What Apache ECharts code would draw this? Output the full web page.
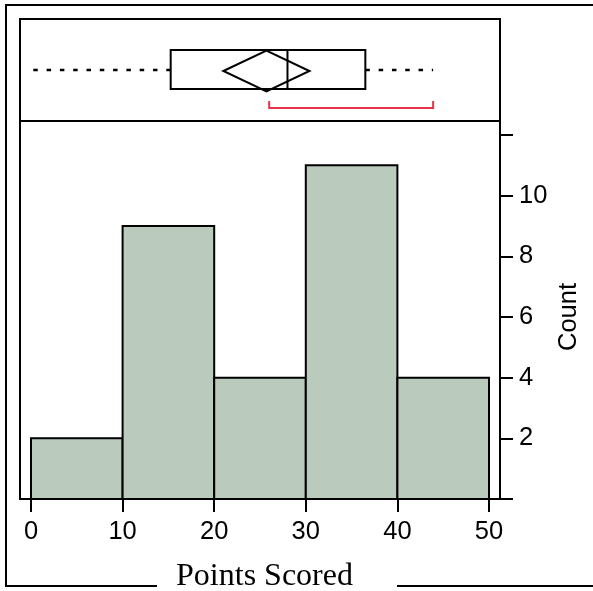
<!DOCTYPE html>
<html><head><meta charset="utf-8">
<script src="https://cdn.jsdelivr.net/npm/echarts@6/dist/echarts.min.js"></script>
<style>html,body{margin:0;padding:0;background:#fff}#c{width:593px;height:591px}</style>
</head><body><div id="c"></div><script>
// ---- data ----
const binStarts = [0, 10, 20, 30, 40];
const binEnds = [10, 20, 30, 40, 50];
const counts = [2, 9, 4, 11, 4];
const xTicks = [0, 10, 20, 30, 40, 50];
const yTicks = [0, 2, 4, 6, 8, 10, 12];
const yLabels = [2, 4, 6, 8, 10];
const boxStats = [0.25, 15.25, 28.0, 36.5, 43.9]; // min, q1, median, q3, max
const meanDiamond = [21.0, 25.7, 30.4];          // ci low, mean, ci high
const shortestHalf = [26.0, 43.9];
const xTitle = 'Points Scored';
const yTitle = 'Count';

const FONT = 'Liberation Sans, Arial, sans-serif';
const chart = echarts.init(document.getElementById('c'), null, {renderer: 'canvas'});
const axisBlack = {color: '#000', width: 2};

chart.setOption({
  animation: false,
  backgroundColor: '#fff',
  grid: [
    {left: 20, top: 19, width: 480, height: 102, show: true, borderColor: '#000', borderWidth: 2, backgroundColor: 'transparent'},
    {left: 20, top: 121, width: 480, height: 378, show: true, borderColor: '#000', borderWidth: 2, backgroundColor: 'transparent'}
  ],
  xAxis: [
    {gridIndex: 0, type: 'value', min: -1.2, max: 51.2, show: false},
    {gridIndex: 1, type: 'value', min: -1.2, max: 51.2,
      axisLine: {show: true, lineStyle: axisBlack},
      axisTick: {show: true, length: 13, customValues: xTicks, lineStyle: axisBlack},
      axisLabel: {customValues: xTicks, margin: 20, color: '#000', fontSize: 25.5, fontFamily: FONT},
      splitLine: {show: false}}
  ],
  yAxis: [
    {gridIndex: 0, type: 'value', min: 0, max: 1, show: false},
    {gridIndex: 1, type: 'value', position: 'right', min: 0, max: 12.46,
      axisLine: {show: true, onZero: false, lineStyle: axisBlack},
      axisTick: {show: true, length: 13, customValues: yTicks, lineStyle: axisBlack},
      axisLabel: {customValues: yLabels, margin: 19, color: '#000', fontSize: 25.5, fontFamily: FONT},
      splitLine: {show: false}}
  ],
  series: [
    {
      type: 'custom', xAxisIndex: 1, yAxisIndex: 1,
      data: binStarts.map((s, i) => [s, binEnds[i], counts[i]]),
      encode: {x: [0, 1], y: 2},
      renderItem: function (params, api) {
        const p0 = api.coord([api.value(0), 0]);
        const p1 = api.coord([api.value(1), api.value(2)]);
        return {type: 'rect', shape: {x: p0[0], y: p1[1], width: p1[0] - p0[0], height: p0[1] - p1[1]},
          style: {fill: '#bacabc', stroke: '#000', lineWidth: 2}};
      }
    },
    {
      type: 'custom', xAxisIndex: 0, yAxisIndex: 0,
      data: [[boxStats[0], boxStats[4]]],
      encode: {x: [0, 1]},
      renderItem: function (params, api) {
        const cs = params.coordSys;
        const X = v => api.coord([v, 0.5])[0];
        const y0 = cs.y;
        const yc = y0 + 51, bt = y0 + 31, bb = y0 + 70;
        const dc = y0 + 52, dh = 20.5;
        const br = y0 + 89, bk = y0 + 82;
        const dash = {stroke: '#000', lineWidth: 2.5, lineDash: [4.5, 8.8], fill: null};
        const solid = {stroke: '#000', lineWidth: 2, fill: null};
        return {type: 'group', children: [
          {type: 'line', shape: {x1: X(boxStats[0]), y1: yc, x2: X(boxStats[1]), y2: yc}, style: dash},
          {type: 'line', shape: {x1: X(boxStats[3]), y1: yc, x2: X(boxStats[4]), y2: yc}, style: dash},
          {type: 'rect', shape: {x: X(boxStats[1]), y: bt, width: X(boxStats[3]) - X(boxStats[1]), height: bb - bt}, style: solid},
          {type: 'line', shape: {x1: X(boxStats[2]), y1: bt, x2: X(boxStats[2]), y2: bb}, style: solid},
          {type: 'polygon', shape: {points: [[X(meanDiamond[0]), dc], [X(meanDiamond[1]), dc - dh], [X(meanDiamond[2]), dc], [X(meanDiamond[1]), dc + dh]]}, style: solid},
          {type: 'polyline', shape: {points: [[X(shortestHalf[0]), bk], [X(shortestHalf[0]), br], [X(shortestHalf[1]), br], [X(shortestHalf[1]), bk]]}, style: {stroke: '#e8334a', lineWidth: 2, fill: null}}
        ]};
      }
    }
  ]
});

const yMid = chart.convertToPixel({yAxisIndex: 1}, 6);
chart.setOption({
  graphic: [
    {type: 'polyline', shape: {points: [[593, 5], [6, 5], [6, 586], [157, 586]]}, style: {stroke: '#000', lineWidth: 2, fill: null}},
    {type: 'line', shape: {x1: 397, y1: 586, x2: 593, y2: 586}, style: {stroke: '#000', lineWidth: 2}},
    {type: 'text', x: 264.5, y: 577, style: {text: xTitle, fill: '#000', font: '32px "Liberation Serif", "Times New Roman", serif', textAlign: 'center', textVerticalAlign: 'middle'}},
    {type: 'text', x: 569, y: yMid, rotation: Math.PI / 2, style: {text: yTitle, fill: '#000', font: '25.5px ' + FONT, textAlign: 'center', textVerticalAlign: 'middle'}}
  ]
});
</script></body></html>
